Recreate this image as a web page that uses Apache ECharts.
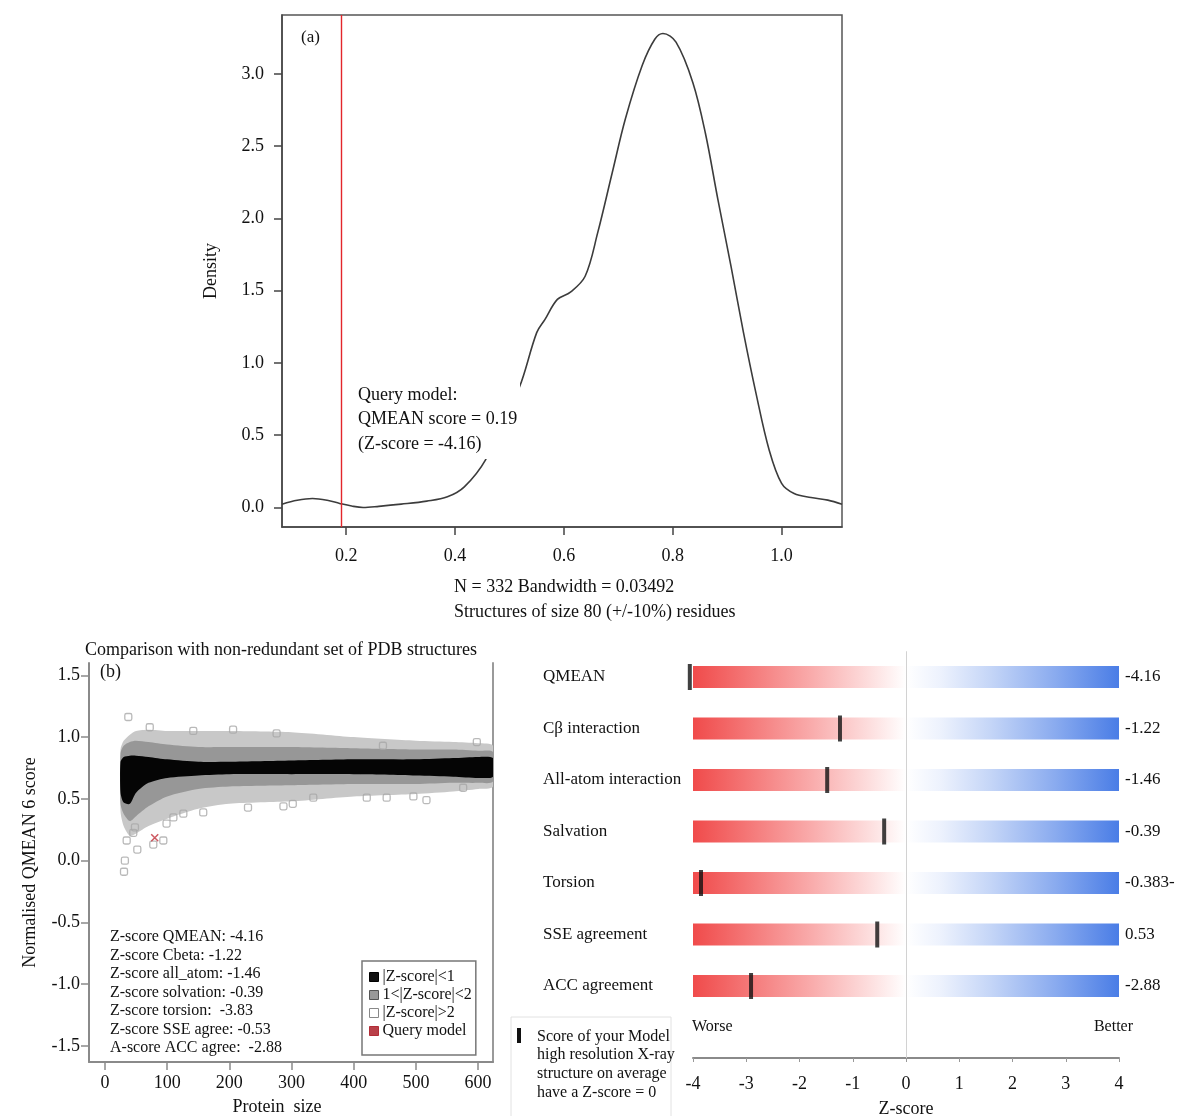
<!DOCTYPE html>
<html>
<head>
<meta charset="utf-8">
<script src="https://cdn.jsdelivr.net/npm/echarts@6.0.0/dist/echarts.min.js"></script>
<style>
  html, body { margin: 0; padding: 0; background: #fff; }
  #chart { width: 1185px; height: 1116px; }
</style>
</head>
<body>
<div id="chart"></div>
<script>
// ---- panel (a): density of QMEAN scores ----
const densX = [0.082, 0.11, 0.138, 0.165, 0.188, 0.21, 0.231, 0.26, 0.301, 0.348, 0.386, 0.417, 0.456, 0.487, 0.518,
  0.55, 0.565, 0.588, 0.612, 0.639, 0.662, 0.689, 0.713, 0.744, 0.767, 0.782, 0.806, 0.837, 0.86, 0.883, 0.907,
  0.93, 0.953, 0.977, 1.0, 1.023, 1.054, 1.085, 1.111]
const densY = [0.023, 0.05, 0.062, 0.05, 0.028, 0.01, 0.0, 0.008, 0.023, 0.044, 0.074, 0.143, 0.33, 0.61, 0.83,
  1.21, 1.30, 1.44, 1.49, 1.60, 1.90, 2.32, 2.69, 3.06, 3.24, 3.28, 3.22, 2.94, 2.59, 2.13, 1.67,
  1.21, 0.79, 0.40, 0.167, 0.097, 0.069, 0.051, 0.023]
const queryScore = 0.186
const aTicksX = [0.2, 0.4, 0.6, 0.8, 1.0]
const aLabelsX = ['0.2', '0.4', '0.6', '0.8', '1.0']
const aTicksY = [0, 0.5, 1, 1.5, 2, 2.5, 3]
const aLabelsY = ['0.0', '0.5', '1.0', '1.5', '2.0', '2.5', '3.0']

// ---- panel (b): QMEAN vs protein size (cloud envelopes) ----
const sizes = [25, 30, 40, 50, 70, 100, 150, 200, 300, 400, 500, 560, 600, 624]
const outerHi = [0.90, 0.97, 1.02, 1.05, 1.06, 1.05, 1.05, 1.05, 1.04, 1.00, 0.97, 0.96, 0.95, 0.93]
const outerLo = [0.40, 0.28, 0.20, 0.22, 0.28, 0.34, 0.42, 0.46, 0.48, 0.52, 0.54, 0.56, 0.58, 0.60]
const midHi = [0.87, 0.93, 0.96, 0.97, 0.96, 0.94, 0.92, 0.92, 0.92, 0.91, 0.90, 0.90, 0.89, 0.88]
const midLo = [0.46, 0.38, 0.32, 0.36, 0.44, 0.52, 0.58, 0.60, 0.61, 0.62, 0.62, 0.63, 0.63, 0.64]
const blackHi = [0.80, 0.84, 0.85, 0.85, 0.84, 0.82, 0.80, 0.80, 0.81, 0.82, 0.82, 0.83, 0.84, 0.83]
const blackLo = [0.55, 0.47, 0.46, 0.55, 0.63, 0.67, 0.69, 0.70, 0.70, 0.70, 0.69, 0.68, 0.67, 0.68]
const outliers = [
  [37.5, 1.163], [32, 0.0], [30.6, -0.09], [34.9, 0.163], [52, 0.09], [45.5, 0.225], [77.7, 0.13],
  [93.8, 0.163], [48.2, 0.27], [99, 0.30], [110, 0.35], [126, 0.38], [158, 0.39], [230, 0.43],
  [287, 0.44], [302, 0.46], [335, 0.51], [421, 0.51], [453, 0.51], [496, 0.52], [517, 0.49],
  [576, 0.59], [72, 1.08], [142, 1.05], [206, 1.06], [276, 1.03], [447, 0.93], [598, 0.96]
]
const queryPoint = [[80, 0.185]]
const bTicksX = [0, 100, 200, 300, 400, 500, 600]
const bLabelsX = ['0', '100', '200', '300', '400', '500', '600']
const bTicksY = [-1.5, -1, -0.5, 0, 0.5, 1, 1.5]
const bLabelsY = ['-1.5', '-1.0', '-0.5', '0.0', '0.5', '1.0', '1.5']
const zText = [
  'Z-score QMEAN: -4.16',
  'Z-score Cbeta: -1.22',
  'Z-score all_atom: -1.46',
  'Z-score solvation: -0.39',
  'Z-score torsion:  -3.83',
  'Z-score SSE agree: -0.53',
  'A-score ACC agree:  -2.88'
]

// ---- right panel: Z-scores of the terms ----
const terms = ['QMEAN', 'Cβ interaction', 'All-atom interaction', 'Salvation', 'Torsion', 'SSE agreement', 'ACC agreement']
const markerZ = [-4.06, -1.24, -1.48, -0.41, -3.85, -0.54, -2.91]
const valueLabels = ['-4.16', '-1.22', '-1.46', '-0.39', '-0.383-', '0.53', '-2.88']
const zTicks = [-4, -3, -2, -1, 0, 1, 2, 3, 4]
const zLabels = ['-4', '-3', '-2', '-1', '0', '1', '2', '3', '4']

const FONT = '"Liberation Serif", "Times New Roman", serif'
const font = (s) => s + 'px ' + FONT

const lab = (ticks, labels) => (v) => {
  const i = ticks.findIndex(t => Math.abs(t - v) < 1e-6)
  return i < 0 ? '' : labels[i]
}

const chart = echarts.init(document.getElementById('chart'))

const bandItem = (hi, lo) => (params, api) => {
  const pts = []
  for (let i = 0; i < sizes.length; i++) pts.push(api.coord([sizes[i], hi[i]]))
  for (let i = sizes.length - 1; i >= 0; i--) pts.push(api.coord([sizes[i], lo[i]]))
  return { type: 'polygon', shape: { points: pts, smooth: 0.25 }, style: { fill: api.visual('color') } }
}

const barGrad = new echarts.graphic.LinearGradient(0, 0, 1, 0, [
  { offset: 0, color: '#f04b4b' },
  { offset: 0.12, color: '#f47474' },
  { offset: 0.28, color: '#f9acac' },
  { offset: 0.42, color: '#fde0e0' },
  { offset: 0.5, color: '#ffffff' },
  { offset: 0.58, color: '#edf2fd' },
  { offset: 0.7, color: '#c4d5f7' },
  { offset: 0.85, color: '#8aabef' },
  { offset: 1, color: '#4a7de6' }
])

const axisText = { fontFamily: FONT, fontSize: 18, color: '#111' }

const option = {
  animation: false,
  textStyle: { fontFamily: FONT },
  grid: [
    { left: 282, top: 15, width: 560, height: 512, show: true, borderColor: '#555', borderWidth: 1.5, outerBoundsMode: 'none' },
    { left: 89, top: 663, width: 404, height: 399, outerBoundsMode: 'none' },
    { left: 693, top: 651.25, width: 426, height: 406.75, outerBoundsMode: 'none' }
  ],
  xAxis: [
    {
      gridIndex: 0, type: 'value', min: 0.082, max: 1.111,
      axisLine: { onZero: false, lineStyle: { color: '#444', width: 1.5 } },
      axisTick: { length: 8, lineStyle: { color: '#444', width: 1.5 }, customValues: aTicksX },
      axisLabel: { ...axisText, margin: 20, customValues: aTicksX, formatter: lab(aTicksX, aLabelsX) },
      splitLine: { show: false }
    },
    {
      gridIndex: 1, type: 'value', min: -25.7, max: 624,
      axisLine: { onZero: false, lineStyle: { color: '#8a8a8a', width: 2 } },
      axisTick: { length: 8, lineStyle: { color: '#8a8a8a', width: 1.5 }, customValues: bTicksX },
      axisLabel: { ...axisText, margin: 12, customValues: bTicksX, formatter: lab(bTicksX, bLabelsX) },
      splitLine: { show: false },
      name: 'Protein  size', nameLocation: 'middle', nameGap: 36,
      nameTextStyle: { fontFamily: FONT, fontSize: 18, color: '#111', padding: [0, 28, 0, 0] }
    },
    {
      gridIndex: 2, type: 'value', min: -4, max: 4, interval: 1,
      axisLine: { onZero: false, lineStyle: { color: '#8a8a8a', width: 2 } },
      axisTick: { length: 4, lineStyle: { color: '#999', width: 1 } },
      axisLabel: { ...axisText, margin: 17, formatter: lab(zTicks, zLabels) },
      splitLine: { show: false },
      name: 'Z-score', nameLocation: 'middle', nameGap: 42,
      nameTextStyle: { fontFamily: FONT, fontSize: 18, color: '#111' }
    }
  ],
  yAxis: [
    {
      gridIndex: 0, type: 'value', min: -0.135, max: 3.408,
      axisLine: { onZero: false, lineStyle: { color: '#444', width: 1.5 } },
      axisTick: { length: 8, lineStyle: { color: '#444', width: 1.5 }, customValues: aTicksY },
      axisLabel: { ...axisText, margin: 18, customValues: aTicksY, formatter: lab(aTicksY, aLabelsY) },
      splitLine: { show: false },
      name: 'Density', nameLocation: 'middle', nameGap: 62, nameRotate: 90,
      nameTextStyle: { fontFamily: FONT, fontSize: 18, color: '#111' }
    },
    {
      gridIndex: 1, type: 'value', min: -1.63, max: 1.6,
      axisLine: { onZero: false, lineStyle: { color: '#8a8a8a', width: 2 } },
      axisTick: { length: 8, lineStyle: { color: '#8a8a8a', width: 1.5 }, customValues: bTicksY },
      axisLabel: { ...axisText, margin: 9, customValues: bTicksY, formatter: lab(bTicksY, bLabelsY) },
      splitLine: { show: false },
      name: 'Normalised QMEAN 6 score', nameLocation: 'middle', nameGap: 50, nameRotate: 90,
      nameTextStyle: { fontFamily: FONT, fontSize: 18, color: '#111' }
    },
    {
      gridIndex: 1, type: 'value', min: -1.63, max: 1.6, position: 'right',
      axisLine: { show: true, onZero: false, lineStyle: { color: '#9a9a9a', width: 2 } },
      axisTick: { show: false }, axisLabel: { show: false }, splitLine: { show: false }
    },
    {
      gridIndex: 2, type: 'value', min: -0.5, max: 7.398, inverse: true,
      axisLine: { show: false, onZero: false }, axisTick: { show: false }, splitLine: { show: false },
      axisLabel: {
        fontFamily: FONT, fontSize: 17, color: '#111', align: 'left', margin: 150,
        customValues: terms.map((t, i) => i), formatter: (v) => terms[Math.round(v)]
      }
    },
    {
      gridIndex: 2, type: 'value', min: -0.5, max: 7.398, inverse: true, position: 'right',
      axisLine: { show: false, onZero: false }, axisTick: { show: false }, splitLine: { show: false },
      axisLabel: {
        fontFamily: FONT, fontSize: 17, color: '#111', align: 'left', margin: 6,
        customValues: terms.map((t, i) => i), formatter: (v) => valueLabels[Math.round(v)]
      }
    }
  ],
  legend: {
    left: 362, top: 961, orient: 'vertical', selectedMode: false,
    itemWidth: 9, itemHeight: 9, itemGap: 2,
    padding: [8, 4, 16, 7],
    borderColor: '#777', borderWidth: 1.5, backgroundColor: '#fff',
    textStyle: { fontFamily: FONT, fontSize: 16, color: '#111', padding: [0, 0, 0, -1] },
    data: [
      { name: '|Z-score|<1', icon: 'rect', itemStyle: { color: '#111', borderColor: '#000', borderWidth: 1 } },
      { name: '1<|Z-score|<2', icon: 'rect', itemStyle: { color: '#999', borderColor: '#555', borderWidth: 1 } },
      { name: '|Z-score|>2', icon: 'rect', itemStyle: { color: '#fff', borderColor: '#888', borderWidth: 1 } },
      { name: 'Query model', icon: 'rect', itemStyle: { color: '#a8101c', borderColor: '#a8101c', borderWidth: 1 } }
    ]
  },
  series: [
    {
      type: 'line', xAxisIndex: 0, yAxisIndex: 0,
      data: densX.map((x, i) => [x, densY[i]]),
      smooth: 0.35, symbol: 'none',
      lineStyle: { color: '#3c3c3c', width: 1.6 },
      markLine: {
        silent: true, symbol: ['none', 'none'], label: { show: false },
        lineStyle: { color: '#e3262b', width: 1.4, type: 'solid' },
        data: [{ xAxis: queryScore }]
      }
    },
    {
      name: '|Z-score|>2', type: 'custom', xAxisIndex: 1, yAxisIndex: 1, clip: true,
      itemStyle: { color: '#c8c8c8' }, data: [[0, 0]], renderItem: bandItem(outerHi, outerLo)
    },
    {
      name: '1<|Z-score|<2', type: 'custom', xAxisIndex: 1, yAxisIndex: 1, clip: true,
      itemStyle: { color: '#979797' }, data: [[0, 0]], renderItem: bandItem(midHi, midLo)
    },
    {
      name: '|Z-score|<1', type: 'custom', xAxisIndex: 1, yAxisIndex: 1, clip: true,
      itemStyle: { color: '#050505' }, data: [[0, 0]], renderItem: bandItem(blackHi, blackLo)
    },
    {
      name: '|Z-score|>2', type: 'scatter', xAxisIndex: 1, yAxisIndex: 1,
      symbol: 'roundRect', symbolSize: 7,
      itemStyle: { color: 'rgba(255,255,255,0)', borderColor: '#a8a8a8', borderWidth: 1.3 },
      data: outliers
    },
    {
      name: 'Query model', type: 'scatter', xAxisIndex: 1, yAxisIndex: 1,
      symbol: 'path://M0,0L10,10M10,0L0,10', symbolSize: 7,
      itemStyle: { color: 'none', borderColor: '#c0303a', borderWidth: 1.5 },
      data: queryPoint, z: 4
    },
    {
      type: 'custom', xAxisIndex: 2, yAxisIndex: 3, clip: false,
      encode: { x: 0, y: 1 },
      data: terms.map((t, i) => [-4, i]),
      renderItem: (params, api) => {
        const row = api.value(1)
        const a = api.coord([zTicks[0], row])
        const b = api.coord([zTicks[zTicks.length - 1], row])
        const h = 22
        return {
          type: 'rect',
          shape: { x: a[0], y: a[1] - h / 2, width: b[0] - a[0], height: h },
          style: { fill: barGrad }
        }
      },
      markLine: {
        silent: true, symbol: ['none', 'none'], label: { show: false },
        lineStyle: { color: '#d2d2d2', width: 1, type: 'solid' },
        data: [{ xAxis: 0 }]
      }
    },
    {
      type: 'scatter', xAxisIndex: 2, yAxisIndex: 3, clip: false,
      symbol: 'rect', symbolSize: [4, 26],
      itemStyle: { color: '#111' },
      data: markerZ.map((z, i) => [z, i]), z: 5
    }
  ],
  graphic: [
    { type: 'text', x: 301, y: 38, style: { text: '(a)', font: font(17), fill: '#111', verticalAlign: 'middle' } },
    { type: 'rect', z: 100, shape: { x: 348, y: 383, width: 172, height: 76 }, style: { fill: '#fff' } },
    {
      type: 'text', z: 101, x: 358, y: 383,
      style: { text: 'Query model:\nQMEAN score = 0.19\n(Z-score = -4.16)', font: font(18), lineHeight: 24.5, fill: '#111', verticalAlign: 'top' }
    },
    {
      type: 'text', x: 454, y: 575,
      style: { text: 'N = 332 Bandwidth = 0.03492\nStructures of size 80 (+/-10%) residues', font: font(18), lineHeight: 25, fill: '#111', verticalAlign: 'top' }
    },
    { type: 'text', x: 85, y: 650, style: { text: 'Comparison with non-redundant set of PDB structures', font: font(18), fill: '#111', verticalAlign: 'middle' } },
    { type: 'text', x: 100, y: 672, style: { text: '(b)', font: font(18), fill: '#111', verticalAlign: 'middle' } },
    {
      type: 'text', x: 110, y: 928, z: 10,
      style: { text: zText.join('\n'), font: font(16), lineHeight: 18.5, fill: '#111', verticalAlign: 'top' }
    },
    { type: 'text', x: 692, y: 1027, style: { text: 'Worse', font: font(16), fill: '#111', verticalAlign: 'middle' } },
    { type: 'text', x: 1133, y: 1027, style: { text: 'Better', font: font(16), fill: '#111', align: 'right', verticalAlign: 'middle' } },
    { type: 'rect', shape: { x: 511, y: 1017, width: 160, height: 110 }, style: { fill: 'none', stroke: '#e2e2e2', lineWidth: 1 } },
    { type: 'rect', shape: { x: 517, y: 1028, width: 4, height: 15 }, style: { fill: '#111' } },
    {
      type: 'text', x: 537, y: 1027,
      style: { text: 'Score of your Model\nhigh resolution X-ray\nstructure on average\nhave a Z-score = 0', font: font(16), lineHeight: 18.7, fill: '#111', verticalAlign: 'top' }
    }
  ]
}

chart.setOption(option)
window.addEventListener('resize', () => chart.resize())
</script>
</body>
</html>
